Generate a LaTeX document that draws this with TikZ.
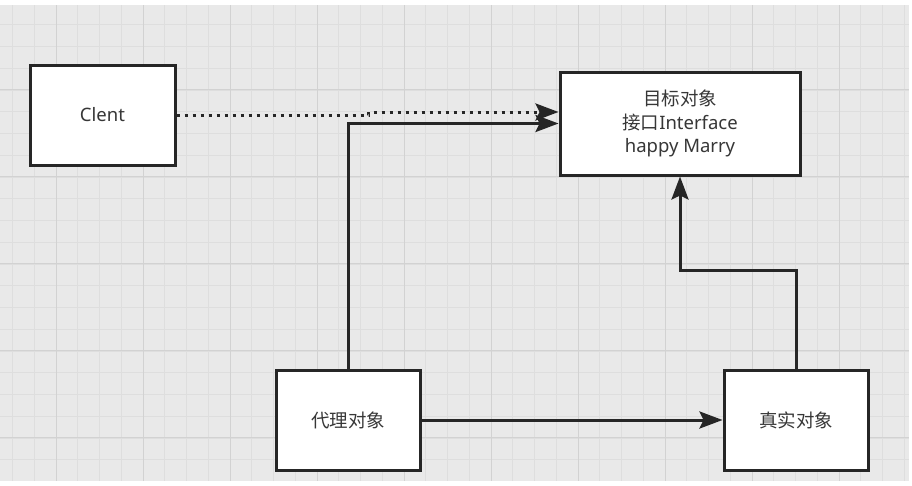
\documentclass[tikz,border=0pt]{standalone}
\usepackage{fontspec}
\setmainfont{Noto Sans}
\newfontfamily\cjk{Noto Sans CJK SC}
\usetikzlibrary{positioning,calc,arrows.meta}
\definecolor{bgGray}{RGB}{233,233,233}
\definecolor{gridMinor}{RGB}{222,222,222}
\definecolor{gridMajor}{RGB}{210,210,210}
\definecolor{txtGray}{RGB}{55,55,55}
\definecolor{edgeDark}{RGB}{38,38,38}

\begin{document}
\begin{tikzpicture}[x=1pt,y=-1pt,
   box/.style={rectangle,draw=edgeDark,line width=3pt,fill=white,
     minimum width=144pt,minimum height=100pt,inner sep=0pt,align=center,
     text=txtGray,font=\fontsize{18.5}{23.5}\selectfont},
   flow/.style={draw=edgeDark,line width=3pt,-{Stealth[length=23pt,width=17pt,inset=4pt]}},
   dep/.style={flow,dash pattern=on 3pt off 5pt}]
\useasboundingbox (0,0) rectangle (912,485);
%% ---- canvas with grid ----
\fill[white] (0,0) rectangle (912,485);
\fill[bgGray] (0,5) rectangle (909,481);
\foreach \k in {0,...,41}
  \draw[gridMinor,line width=0.8pt] (12.5+21.75*\k,5) -- (12.5+21.75*\k,481);
\foreach \k in {1,...,21}
  \draw[gridMinor,line width=0.8pt] (0,2.9+21.75*\k) -- (909,2.9+21.75*\k);
\foreach \m in {0,...,9}
  \draw[gridMajor,line width=1pt] (56+87*\m,5) -- (56+87*\m,481);
\foreach \m in {1,...,5}
  \draw[gridMajor,line width=1pt] (0,2.9+87*\m) -- (909,2.9+87*\m);

%% ---- boxes ----
\node[box,minimum width=145pt] (clent) at (102.5,115) {Clent};
\node[box,minimum width=240pt,minimum height=103pt] (tgt) at (680,123.5)
  {{\cjk 目标对象}\\{\cjk 接口}Interface\\happy Marry};
\node[box] (proxy) at (348,420) {\cjk 代理对象};
\node[box] (real) at (796,420) {\cjk 真实对象};

%% ---- connectors ----
\draw[dep] (clent.east) -- ++(192,0) |- ($(tgt.west)+(0,-11.5)$);
\draw[flow] (proxy.north) |- (tgt.west);
\draw[flow] (proxy.east) -- (real.west);
\draw[flow] (real.north) -- ++(0,-98) -| (tgt.south);
\end{tikzpicture}
\end{document}
